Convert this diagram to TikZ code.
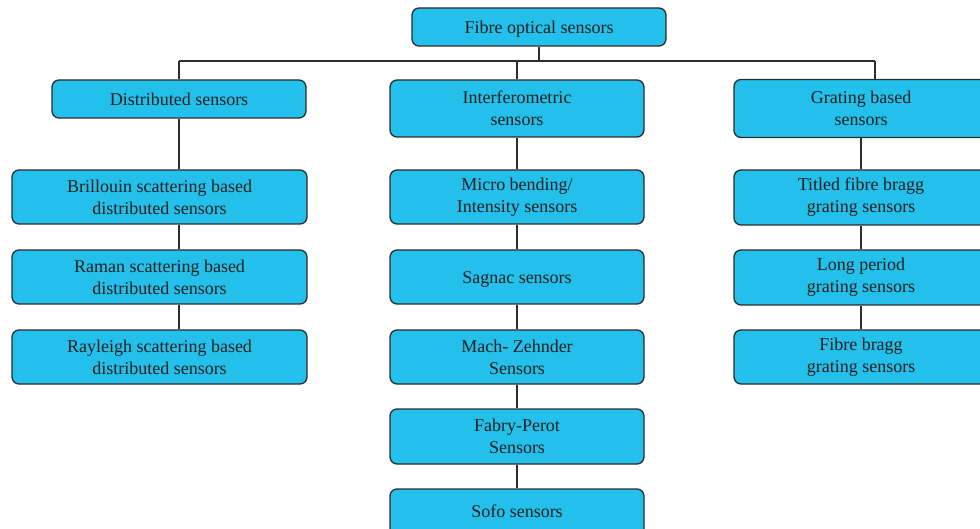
\documentclass[tikz,border=0pt]{standalone}
\usepackage{fontspec}
\setmainfont{Liberation Serif}
\definecolor{boxfill}{RGB}{34,192,234}
\definecolor{boxline}{RGB}{45,45,45}
\definecolor{ink}{RGB}{35,31,32}
\begin{document}
\begin{tikzpicture}[x=1pt,y=-1pt,
  label text/.style={text=ink, align=center, font=\fontsize{18}{22}\selectfont},
  oneline/.style={text height=17.5pt, text depth=4pt},
  box/.style={draw=boxline, line width=1.3pt, fill=boxfill, rounded corners=7pt,
    label text, inner sep=0pt},
  wide/.style={box, minimum width=254pt},
  wider/.style={box, minimum width=295pt},
  link/.style={draw=boxline, line width=1.3pt}]
\useasboundingbox (0,0) rectangle (980,529);
\clip (0,0) rectangle (980,529);
% root
\node[wide, oneline, minimum height=38pt] (root) at (539,27) {Fibre optical sensors};
% second level
\node[wide, oneline, minimum height=38pt] (dist) at (179,99) {Distributed sensors};
\node[wide, minimum height=57pt] (intf) at (517,108.5) {Interferometric\\sensors};
\node[wide, minimum height=58pt] (grat) at (861,108.5) {Grating based\\sensors};
% distributed sensors
\node[wider, minimum height=54pt] (bril) at (159.5,197) {Brillouin scattering based\\distributed sensors};
\node[wider, minimum height=54pt] (rama) at (159.5,277) {Raman scattering based\\distributed sensors};
\node[wider, minimum height=54pt] (rayl) at (159.5,357) {Rayleigh scattering based\\distributed sensors};
% interferometric sensors
\node[wide, minimum height=54pt] (micr) at (517,197) {Micro bending/\\Intensity sensors};
\node[wide, oneline, minimum height=54pt] (sagn) at (517,277) {Sagnac sensors};
\node[wide, minimum height=54pt] (mach) at (517,357) {Mach- Zehnder\\Sensors};
\node[wide, minimum height=55pt] (fabr) at (517,436.5) {Fabry-Perot\\Sensors};
\node[wide, minimum height=54pt] (sofo) at (517,516) {};
\node[label text, oneline, inner sep=0pt] (sofot) at (517,511) {Sofo sensors};
% grating based sensors
\node[wide, minimum height=55pt] (tilt) at (861,197.5) {Titled fibre bragg\\grating sensors};
\node[wide, minimum height=55pt] (long) at (861,277.5) {Long period\\grating sensors};
\node[wide, minimum height=54pt] (fbgs) at (861,357) {Fibre bragg\\grating sensors};
% tree links
\coordinate (busL) at (179,61);
\coordinate (busR) at (875,61);
\coordinate (gratTop) at (875,79.5);
\draw[link] (root.south) -- (root.south |- busL);
\draw[link] (busL) -- (busR);
\draw[link] (busL) -- (dist.north);
\draw[link] (intf.north |- busL) -- (intf.north);
\draw[link] (busR) -- (gratTop);
\draw[link] (dist.south) -- (dist.south |- bril.north);
\draw[link] (dist.south |- bril.south) -- (dist.south |- rama.north);
\draw[link] (dist.south |- rama.south) -- (dist.south |- rayl.north);
\draw[link] (intf.south) -- (micr.north);
\draw[link] (micr.south) -- (sagn.north);
\draw[link] (sagn.south) -- (mach.north);
\draw[link] (mach.south) -- (fabr.north);
\draw[link] (fabr.south) -- (sofo.north);
\draw[link] (grat.south) -- (tilt.north);
\draw[link] (tilt.south) -- (long.north);
\draw[link] (long.south) -- (fbgs.north);
\end{tikzpicture}
\end{document}
